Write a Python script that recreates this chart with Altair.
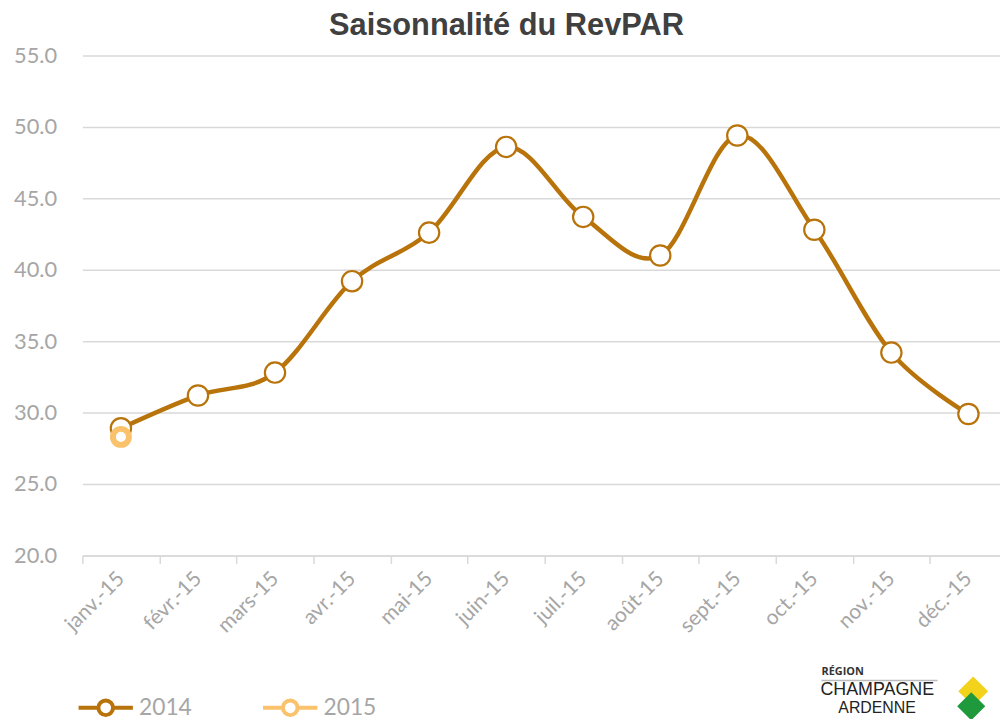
import altair as alt
import pandas as pd

months = ["janv.-15", "févr.-15", "mars-15", "avr.-15", "mai-15", "juin-15",
          "juil.-15", "août-15", "sept.-15", "oct.-15", "nov.-15", "déc.-15"]
rev_2014 = [28.9, 31.2, 32.8, 39.2, 42.6, 48.6, 43.7, 41.0, 49.4, 42.8, 34.2, 29.9]
rev_2015 = [28.3]
series = ["2014", "2015"]
colors = ["#B8730A", "#FAC26B"]

rows = [{"mois": m, "annee": "2014", "revpar": v} for m, v in zip(months, rev_2014)]
rows += [{"mois": m, "annee": "2015", "revpar": v} for m, v in zip(months, rev_2015)]
df = pd.DataFrame(rows)

W, H = 925, 504
FONT = "Lato"
GRAY = "#A6A6A6"

xenc = alt.X("mois:N", sort=months, title=None,
             scale=alt.Scale(paddingInner=0, paddingOuter=0, range=[0, 932]),
             axis=alt.Axis(labelAngle=-45, labelAlign="right", labelBaseline="middle",
                           labelFontSize=21, labelColor=GRAY, labelFont=FONT,
                           labelPadding=12, tickBand="extent", ticks=True,
                           tickSize=8, tickColor="#D9D9D9", domainColor="#D9D9D9",
                           domainWidth=1.5, tickWidth=1.5, grid=False))
yenc = alt.Y("revpar:Q", title=None,
             scale=alt.Scale(domain=[20, 55], nice=False, zero=False),
             axis=alt.Axis(values=[20, 25, 30, 35, 40, 45, 50, 55], format=".1f",
                           labelFontSize=22, labelColor=GRAY, labelFont=FONT,
                           labelPadding=26, ticks=False, domain=False,
                           grid=True, gridColor="#D9D9D9", gridWidth=1.5))
cscale = alt.Scale(domain=series, range=colors)

legend_sym = ("M-1,0L-0.27,0M0.27,0L1,0"
              "M-0.27,0A0.27,0.27 0 1,0 0.27,0A0.27,0.27 0 1,0 -0.27,0Z")
leg = alt.Legend(title=None, orient="none", legendX=-6, legendY=628,
                 direction="horizontal", columns=2,
                 symbolType=legend_sym, symbolSize=3000,
                 symbolStrokeWidth=4, symbolFillColor="white",
                 labelFontSize=23, labelColor=GRAY, labelFont=FONT,
                 labelOffset=4, columnPadding=63, values=series)
senc = alt.Stroke("annee:N", scale=cscale, legend=leg)

base = alt.Chart(df)

line = base.transform_filter(alt.datum.annee == "2014").mark_line(
    interpolate="cardinal", strokeWidth=4.5
).encode(x=xenc, y=yenc, stroke=senc)

pts14 = base.transform_filter(alt.datum.annee == "2014").mark_point(
    shape="circle", filled=True, fill="white", size=420, strokeWidth=2.2, opacity=1
).encode(x=xenc, y=yenc, stroke=senc)

pts15 = base.transform_filter(alt.datum.annee == "2015").mark_point(
    shape="circle", filled=True, fill="white", size=260, strokeWidth=6, opacity=1
).encode(x=xenc, y=yenc, stroke=senc)

logo_r = alt.Chart(pd.DataFrame({"t": ["RÉGION"]})).mark_text(
    align="left", baseline="middle", fontSize=11, font="Open Sans", fontWeight="bold",
    color="#333333"
).encode(text="t:N", x=alt.value(745), y=alt.value(622))
logo_line = alt.Chart(pd.DataFrame({"t": ["l"]})).mark_rule(
    color="#BBBBBB", strokeWidth=1.5
).encode(x=alt.value(745), x2=alt.value(862), y=alt.value(630))
logo_c = alt.Chart(pd.DataFrame({"t": ["CHAMPAGNE"]})).mark_text(
    align="left", baseline="middle", fontSize=18, font="Liberation Sans", color="#222222"
).encode(text="t:N", x=alt.value(744), y=alt.value(640))
logo_a = alt.Chart(pd.DataFrame({"t": ["ARDENNE"]})).mark_text(
    align="left", baseline="middle", fontSize=16, font="Liberation Sans", color="#222222"
).encode(text="t:N", x=alt.value(762), y=alt.value(658))
logo_y = alt.Chart(pd.DataFrame({"t": ["y"]})).mark_point(
    shape="square", filled=True, color="#F2D21B", size=450, angle=45, opacity=1
).encode(x=alt.value(898), y=alt.value(641))
logo_g = alt.Chart(pd.DataFrame({"t": ["g"]})).mark_point(
    shape="square", filled=True, color="#1E9A3C", size=400, angle=45, opacity=1
).encode(x=alt.value(896), y=alt.value(656))

chart = alt.layer(line, pts14, pts15, logo_r, logo_line, logo_c, logo_a,
                  logo_y, logo_g).properties(
    width=W, height=H,
    title=alt.TitleParams("Saisonnalité du RevPAR", fontSize=31, font="Liberation Sans",
                          fontWeight="bold", color="#404040", anchor="middle",
                          dx=-35, offset=10, dy=7),
    autosize=alt.AutoSizeParams(type="none"),
    padding={"left": 75, "top": 45, "right": 0, "bottom": 162},
).configure_view(stroke=None)

chart.save("out.html", embed_options={"renderer": "svg", "actions": False})
